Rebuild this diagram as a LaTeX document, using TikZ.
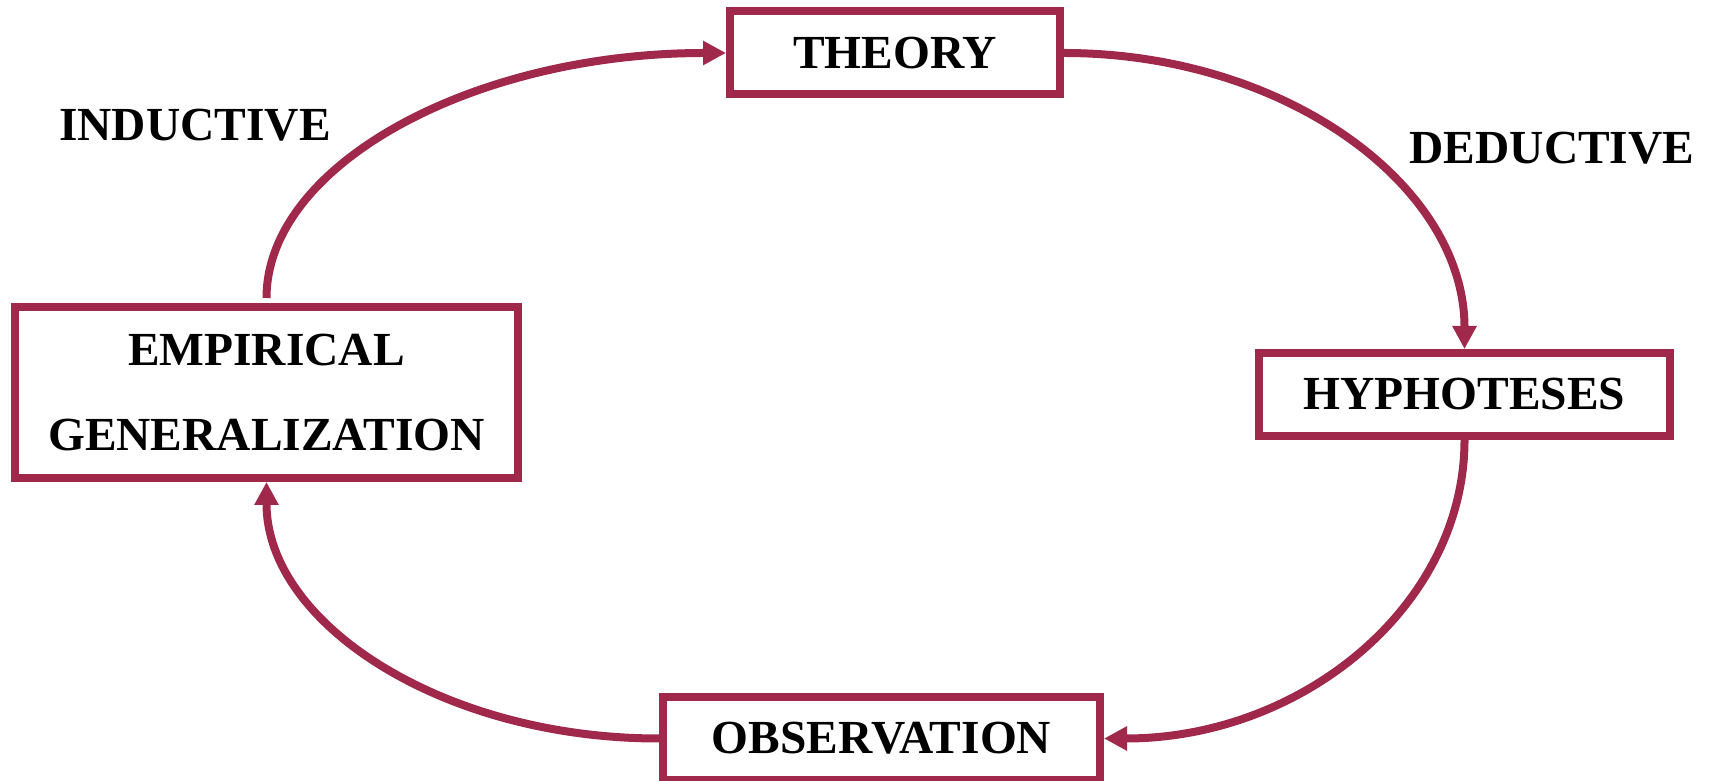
\documentclass[tikz,border=0pt]{standalone}
\usepackage{fontspec}
\setmainfont{Liberation Serif}
\usepackage{xcolor}
\usepackage{tikz}
\usetikzlibrary{arrows.meta,positioning}
\definecolor{wine}{RGB}{160,40,75}

\begin{document}
\begin{tikzpicture}[
  stage/.style={draw=wine, line width=0.16cm, fill=white, inner sep=0pt, minimum height=1.66cm, align=center, font=\fontsize{27}{48}\selectfont\bfseries},
  lbl/.style={font=\fontsize{27}{32}\selectfont\bfseries},
  arr/.style={draw=wine, line width=0.16cm, -{Triangle[length=0.46cm,width=0.46cm]}}
]
\useasboundingbox (0,0) rectangle (34.3,15.62);

% Stages of the cycle
\node[stage, minimum width=6.6cm] (theory) at (17.9, 14.56) {THEORY};
\node[stage, minimum width=8.22cm] (hyp) at (29.29, 7.73) {HYPHOTESES};
\node[stage, minimum width=8.74cm] (obs) at (17.63, 0.85) {OBSERVATION};
\node[stage, minimum width=10.06cm, minimum height=3.42cm] (emp) at (5.33, 7.77) {EMPIRICAL\\GENERALIZATION};

% Side labels
\node[lbl] (ind) at (3.9, 13.12) {INDUCTIVE};
\node[lbl] (ded) at (31.04, 12.66) {DEDUCTIVE};

% Cycle arrows
\draw[arr, shorten <=0.1cm] (emp.north) .. controls +(0,2.76) and +(-5.07,0) .. (theory.west);
\draw[arr] (theory.east) .. controls +(4.42,0) and +(0,3.27) .. (hyp.north);
\draw[arr] (hyp.south) .. controls +(0,-3.30) and +(3.98,0) .. (obs.east);
\draw[arr] (obs.west) .. controls +(-4.33,0) and +(0,-2.83) .. (emp.south);
\end{tikzpicture}
\end{document}
